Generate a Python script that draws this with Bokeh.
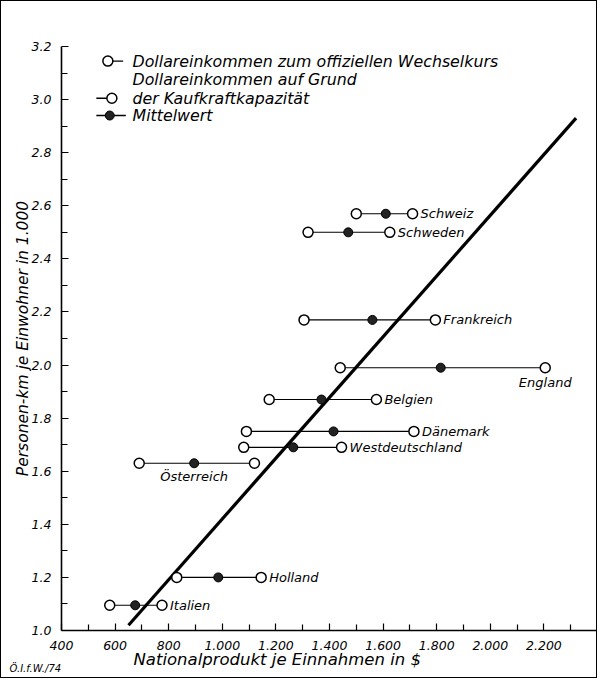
from bokeh.plotting import figure
from bokeh.models import FixedTicker, PrintfTickFormatter, Label, Title, InlineStyleSheet
from bokeh.core.properties import value
from bokeh.embed import file_html
from bokeh.resources import INLINE

# ---- data ----
countries = ["Schweiz", "Schweden", "Frankreich", "England", "Belgien",
             "Dänemark", "Westdeutschland", "Österreich", "Holland", "Italien"]
persons_km = [2.57, 2.50, 2.17, 1.99, 1.87, 1.75, 1.69, 1.63, 1.20, 1.095]
income_official = [1500, 1320, 1305, 1440, 1175, 1090, 1080, 690, 830, 580]
income_mean = [1610, 1470, 1560, 1815, 1370, 1415, 1265, 895, 985, 675]
income_ppp = [1710, 1625, 1795, 2205, 1575, 1715, 1445, 1120, 1145, 775]
label_pos = ["right", "right", "right", "below_ppp", "right",
             "right", "right", "below_mean", "right", "right"]

trend_x = [650, 2320]
trend_y = [1.02, 2.93]

x_major = [400, 600, 800, 1000, 1200, 1400, 1600, 1800, 2000, 2200]
x_minor = [500, 700, 900, 1100, 1300, 1500, 1700, 1900, 2100, 2300]
x_labels = ["400", "600", "800", "1.000", "1.200", "1.400", "1.600",
            "1.800", "2.000", "2.200"]
y_major = [1.0, 1.2, 1.4, 1.6, 1.8, 2.0, 2.2, 2.4, 2.6, 2.8, 3.0, 3.2]
y_minor = [1.1, 1.3, 1.5, 1.7, 1.9, 2.1, 2.3, 2.5, 2.7, 2.9, 3.1]

FONT = "DejaVu Sans"

p = figure(width=597, height=678, x_range=(400, 2400), y_range=(1.0, 3.2),
           output_backend="svg", toolbar_location=None,
           min_border_left=61, min_border_right=0, min_border_top=46,
           min_border_bottom=48)
p.outline_line_color = None
p.xgrid.visible = False
p.ygrid.visible = False
p.background_fill_color = "white"
p.border_fill_color = "white"
p.stylesheets = [InlineStyleSheet(css=(
    ":host::after { content: ''; position: absolute; left: 0; top: 0; "
    "right: 0; bottom: 0; border: 1.5px solid black; "
    "pointer-events: none; z-index: 100; }"))]

# axes
p.xaxis.ticker = FixedTicker(ticks=x_major, minor_ticks=x_minor)
p.xaxis.major_label_overrides = {t: l for t, l in zip(x_major, x_labels)}
p.yaxis.ticker = FixedTicker(ticks=y_major, minor_ticks=y_minor)
p.yaxis.formatter = PrintfTickFormatter(format="%.1f")
for ax in (p.xaxis, p.yaxis):
    ax.axis_line_width = 1.6
    ax.axis_line_color = "black"
    ax.major_tick_in = 7
    ax.major_tick_out = 0
    ax.minor_tick_in = 6
    ax.minor_tick_out = 0
    ax.major_tick_line_color = "black"
    ax.minor_tick_line_color = "black"
    ax.major_tick_line_width = 1.2
    ax.minor_tick_line_width = 1.2
    ax.major_label_text_font = FONT
    ax.major_label_text_font_style = "italic"
    ax.major_label_text_font_size = "12.5px"
    ax.major_label_text_color = "black"
    ax.axis_label_text_font = FONT
    ax.axis_label_text_font_style = "italic"
    ax.axis_label_text_color = "black"
p.yaxis.axis_label_text_font_size = "15.5px"
p.yaxis.axis_label = "Personen-km je Einwohner in 1.000"
p.xaxis.major_label_standoff = 10
p.yaxis.major_label_standoff = 10
p.yaxis.axis_label_standoff = -3

# x-axis title (placed left of centre as in the original) and source mark
p.add_layout(Title(text="Nationalprodukt je Einnahmen in $", align="left",
                   vertical_align="top", offset=72, standoff=-6,
                   text_font=FONT, text_font_style="italic",
                   text_font_size="16.5px", text_color="black"), "below")
p.add_layout(Title(text="Ö.I.f.W./74", align="left", vertical_align="top",
                   offset=-52, standoff=-10,
                   text_font=FONT, text_font_style="italic",
                   text_font_size="10px", text_color="black"), "below")

# trend line
p.line(trend_x, trend_y, line_width=3.2, line_color="black")

# horizontal connectors and points
p.segment(x0=income_official, x1=income_ppp, y0=persons_km, y1=persons_km,
          line_color="black", line_width=1.1)
p.scatter(income_official, persons_km, size=10, marker="circle",
          fill_color="white", line_color="black", line_width=1.5)
p.scatter(income_ppp, persons_km, size=10, marker="circle",
          fill_color="white", line_color="black", line_width=1.5)
p.scatter(income_mean, persons_km, size=9, marker="circle",
          fill_color="#222222", line_color="black", line_width=1)

# country labels
LBL = dict(text_font=value(FONT), text_font_style="italic",
           text_font_size="13px", text_color="black", text_baseline="middle")
r_idx = [i for i, s in enumerate(label_pos) if s == "right"]
p.text(x=[income_ppp[i] for i in r_idx], y=[persons_km[i] for i in r_idx],
       text=[countries[i] for i in r_idx], x_offset=8, text_align="left", **LBL)
b_idx = [i for i, s in enumerate(label_pos) if s == "below_ppp"]
p.text(x=[income_ppp[i] for i in b_idx], y=[persons_km[i] for i in b_idx],
       text=[countries[i] for i in b_idx], y_offset=15, text_align="center", **LBL)
m_idx = [i for i, s in enumerate(label_pos) if s == "below_mean"]
p.text(x=[income_mean[i] for i in m_idx], y=[persons_km[i] for i in m_idx],
       text=[countries[i] for i in m_idx], y_offset=13, text_align="center", **LBL)

# legend (drawn by hand)
leg_text_x = 665
leg_rows = [3.145, 3.075, 3.005, 2.94]
p.segment(x0=[575], x1=[630], y0=[leg_rows[0]], y1=[leg_rows[0]],
          line_color="black", line_width=1.3)
p.scatter([573], [leg_rows[0]], size=10, marker="circle",
          fill_color="white", line_color="black", line_width=1.5)
p.segment(x0=[530], x1=[585], y0=[leg_rows[2]], y1=[leg_rows[2]],
          line_color="black", line_width=1.3)
p.scatter([588], [leg_rows[2]], size=10, marker="circle",
          fill_color="white", line_color="black", line_width=1.5)
p.segment(x0=[530], x1=[640], y0=[leg_rows[3]], y1=[leg_rows[3]],
          line_color="black", line_width=1.5)
p.scatter([580], [leg_rows[3]], size=9, marker="circle",
          fill_color="#222222", line_color="black")
leg_texts = ["Dollareinkommen zum offiziellen Wechselkurs",
             "Dollareinkommen auf Grund",
             "der Kaufkraftkapazität",
             "Mittelwert"]
for t, yy in zip(leg_texts, leg_rows):
    p.add_layout(Label(x=leg_text_x, y=yy, text=t, text_font=FONT,
                       text_font_style="italic", text_font_size="15.8px",
                       text_baseline="middle", text_align="left",
                       text_color="black"))

open("out.html", "w").write(file_html(p, INLINE))
